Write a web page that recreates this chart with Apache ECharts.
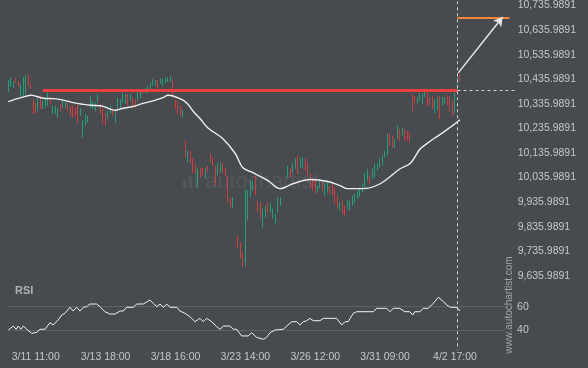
<!DOCTYPE html>
<html><head><meta charset="utf-8">
<script src="https://cdn.jsdelivr.net/npm/echarts@6/dist/echarts.min.js"></script>
<style>html,body{margin:0;padding:0;background:#474a4f;}#c{width:588px;height:368px;}</style>
</head><body><div id="c"></div>
<script>
// ---- data ----
const slotCount = 204;
const xTickIndex = [11, 39, 67, 95, 123, 151, 179];
const xTickText = ['3/11 11:00', '3/13 18:00', '3/18 16:00', '3/23 14:00', '3/26 12:00', '3/31 09:00', '4/2 17:00'];
const priceTicks = [9635.9891, 9735.9891, 9835.9891, 9935.9891, 10035.9891, 10135.9891, 10235.9891, 10335.9891, 10435.9891, 10535.9891, 10635.9891, 10735.9891];
const rsiTicks = [40, 60];

const open = [10388,10409,10405,10437,10425,10372,10372,10380,10449,10413,10352,10336,10311,10364,10319,10324,10332,10356,10299,10303,10283,10332,10324,10320,10336,10324,10324,10315,10332,10291,10202,10251,10263,10324,10319,10311,10344,10332,10311,10295,10279,10299,10315,10263,10311,10324,10344,10340,10372,10352,10356,10352,10352,10364,10392,10384,10384,10400,10413,10413,10429,10421,10413,10425,10429,10429,10433,10348,10344,10324,10283,10182,10101,10141,10109,10088,9999,10072,10072,10036,10080,10129,10113,10080,10048,10060,10093,10072,10040,9951,9918,null,9797,9768,9724,9691,9866,9959,9987,10040,9939,9931,9837,9878,9931,9898,9874,9854,9898,9927,null,null,10040,10072,10060,10076,10121,10080,10084,10113,10093,10048,10032,10020,9979,9995,10020,9967,9979,9999,10007,9991,9959,9906,9939,9918,9914,9906,9927,9935,9955,9959,9979,9999,10028,10040,10036,10040,10068,10080,10088,10121,10129,10214,10202,10161,10198,10230,10210,10230,10222,10214,10372,10364,10340,10352,10340,10368,10384,10360,10364,10303,10311,10364,10332,10340,10368,10364,10344,10303,10392,10453];
const close = [10429,10441,10425,10425,10409,10413,10441,10449,10413,10400,10299,10303,10356,10319,10344,10356,10384,10340,10324,10319,10315,10311,10344,10340,10311,10291,10283,10291,10263,10315,10263,10291,10283,10364,10344,10336,10372,10299,10259,10251,10303,10324,10291,10303,10356,10352,10376,10372,10332,10372,10332,10324,10384,10392,10380,10396,10405,10417,10433,10429,10405,10437,10433,10437,10441,10445,10368,10319,10299,10291,10307,10121,10141,10097,10060,10056,10072,10040,10048,10072,10060,10101,10088,10007,10088,10093,10060,10048,9939,9918,9951,null,9752,9712,9675,9983,9979,10020,10020,9967,9898,9878,9906,9918,9898,9927,9906,9886,9951,9951,null,null,10080,10040,10088,10109,10056,10113,10109,10068,10048,9999,9987,9975,9999,10028,9987,10011,10020,9975,9967,9935,9914,9931,9894,9886,9939,9939,9959,9967,9979,9991,10007,10052,10068,10016,10068,10088,10088,10109,10121,10141,10210,10170,10161,10190,10242,10190,10234,10190,10190,10182,10311,10344,10360,10376,10372,10384,10332,10332,10319,10352,10360,10279,10360,10360,10336,10311,10291,10376,10457,10429];
const low = [10384,10405,10400,10421,10405,10368,10368,10376,10409,10396,10295,10299,10307,10315,10315,10319,10328,10336,10295,10295,10279,10307,10319,10319,10307,10287,10279,10287,10259,10287,10198,10247,10259,10319,10315,10307,10340,10295,10255,10247,10275,10295,10287,10259,10307,10319,10340,10336,10328,10348,10328,10319,10348,10360,10376,10380,10380,10396,10409,10409,10400,10417,10409,10421,10425,10425,10364,10315,10295,10287,10279,10117,10097,10093,10056,10052,9995,10036,10044,10032,10056,10097,10084,10003,10044,10056,10056,10044,9935,9914,9914,null,9748,9708,9671,9675,9862,9955,9983,9963,9894,9874,9833,9874,9894,9894,9870,9849,9894,9922,null,null,10036,10036,10056,10072,10052,10076,10076,10064,10044,9995,9983,9971,9975,9991,9983,9963,9975,9971,9963,9931,9910,9902,9890,9882,9910,9902,9922,9931,9951,9955,9975,9995,10024,10011,10032,10036,10064,10076,10084,10117,10125,10165,10157,10157,10194,10186,10206,10186,10186,10178,10307,10340,10336,10348,10336,10364,10328,10328,10315,10299,10307,10275,10328,10336,10332,10307,10287,10299,10388,10425];
const high = [10433,10445,10429,10441,10429,10417,10445,10453,10453,10417,10356,10340,10360,10368,10348,10360,10388,10360,10328,10328,10319,10336,10348,10348,10340,10328,10328,10319,10336,10319,10267,10295,10287,10368,10348,10340,10376,10336,10315,10299,10307,10328,10319,10307,10360,10356,10380,10376,10376,10376,10360,10356,10388,10396,10396,10400,10409,10421,10437,10433,10433,10441,10437,10441,10445,10449,10437,10352,10348,10328,10311,10186,10145,10145,10113,10093,10076,10076,10076,10076,10084,10133,10117,10084,10093,10097,10097,10076,10044,9955,9955,null,9801,9772,9728,9991,9983,10024,10024,10044,9943,9935,9910,9922,9935,9931,9910,9890,9955,9955,null,null,10084,10076,10093,10113,10125,10117,10117,10117,10097,10052,10036,10024,10003,10032,10024,10016,10024,10003,10011,9995,9963,9935,9943,9922,9943,9943,9963,9971,9983,9995,10011,10056,10072,10044,10072,10093,10093,10113,10125,10145,10214,10218,10206,10194,10247,10234,10238,10234,10226,10218,10376,10368,10364,10380,10376,10388,10388,10364,10368,10356,10364,10368,10364,10364,10372,10368,10348,10380,10461,10457];

const maIdx = [0,5,9,14,18,22,26,30,33,37,41,43,46,50,54,58,62,64,66,70,72,74,77,80,86,91,94,98,104,109,114,121,128,133,136,142,149,157,161,165,168,171,174,177,179,181];
const maVal = [10345,10361,10371,10359,10357,10351,10341,10334,10330,10328,10314,10310,10318,10325,10338,10348,10361,10371,10368,10351,10334,10307,10274,10238,10194,10133,10076,10056,10024,9991,10011,10028,10020,10003,9991,9991,10011,10072,10093,10152,10176,10198,10218,10240,10255,10271];

const rsiIdx = [0,0.7,2,3.1,4,5,6,7.4,9.4,11.4,12.7,14.7,16.7,18,20,21.4,22.7,24.7,26,27.4,28.7,30.1,31.4,32.7,35.4,36.7,38.7,40.7,42.8,44.8,46.1,47.4,50.1,51.5,54.1,56.8,58.1,59.5,60.8,62.1,63.5,64.8,67.5,68.8,70.8,72.8,74.8,76.8,78.1,79.5,81.5,83.5,84.8,86.2,88.8,90.2,91.5,93.5,96.2,97.5,99.5,102.2,103.5,104.9,106.9,110.2,111.6,113.6,115.6,116.9,118.2,119.6,120.9,122.2,124.9,126.2,131.6,133.6,134.9,136.2,138.2,139.6,146.3,147.6,151.6,152.9,154.3,156.9,158.9,160.9,162,162.9,164.9,166.3,168.3,170.3,172.3,173.7,175.7,177.1,179.8,181];
const rsiVal = [40,40.6,43.4,40.6,43.4,40.6,43.4,40.6,37.1,38,40.6,40.6,46.3,44.3,48.6,52.9,54.3,59.5,56.3,59.5,56.3,59.5,60,62.3,62.3,60,55.7,53.7,53.7,56.3,56.3,59.5,59.5,62.3,62.3,65.7,62.9,60,62.3,59.5,62.3,59.5,59.5,56.3,54.3,51.4,47.1,50,47.1,50,47.1,42.9,40.6,43.4,43.4,40.6,40.6,34.9,34.9,37.7,33.7,32,33.7,37.7,40,40.6,43.4,47.1,47.1,44.3,47.1,48,50,48,48,50,50,44.3,47.1,47.1,54.3,55.7,55.7,58.6,58.6,55.7,58.6,58.6,55.7,55.7,52.9,55.7,55.7,58.6,58.6,62.9,68,65.7,61.4,59.5,59.5,56.3];

const levelPrice = 10392;
const levelStartIdx = 13.8;
const signalIdx = 180;
const targetPrice = 10688;
const targetEndIdx = 200.8;
const arrowFrom = [180.3, 10462];
const arrowTo = [198.1, 10689];

// ---- build ----
const cats = Array.from({length: slotCount}, (_, i) => 'c' + i);
const catLabel = {};
xTickIndex.forEach((k, j) => { catLabel['c' + k] = xTickText[j]; });
const candles = open.map((o, i) => o == null ? '-' : [o, close[i], low[i], high[i]]);
const maData = maIdx.map((x, i) => [x, maVal[i]]);
const rsiData = rsiIdx.map((x, i) => [x, rsiVal[i]]);

function fmtPrice(v) {
  const s = v.toFixed(4).split('.');
  return s[0].replace(/\B(?=(\d{3})+(?!\d))/g, ',') + '.' + s[1];
}
const FONT = 'Liberation Sans, Arial, sans-serif';
const LBL = '#c5c7ca';
const yMin = 9335.9891, yMax = 10753;
const gridW = 509.1, slotW = gridW / slotCount, rsiW = 498;

const chart = echarts.init(document.getElementById('c'), null, {renderer: 'canvas'});
chart.setOption({
  backgroundColor: '#474a4f',
  animation: false,
  title: {text: 'RSI', left: 10, top: 280, textStyle: {color: '#aeb0b4', fontSize: 11, fontWeight: 'bold', fontFamily: FONT}},
  grid: [
    {left: 7.05, top: 0, width: gridW, height: 349.7},
    {left: 7.05, top: 306.7, width: rsiW, height: 23.3}
  ],
  xAxis: [
    {type: 'category', gridIndex: 0, data: cats, boundaryGap: true,
     axisLine: {show: false}, axisTick: {show: false}, splitLine: {show: false},
     axisLabel: {interval: 0, margin: 2, color: LBL, fontSize: 10.5, fontFamily: FONT,
       formatter: v => catLabel[v] || ''}},
    {type: 'value', gridIndex: 0, min: -0.5, max: slotCount - 0.5, show: false},
    {type: 'value', gridIndex: 1, min: -0.5, max: -0.5 + rsiW / slotW, show: false}
  ],
  yAxis: [
    {type: 'value', gridIndex: 0, position: 'right', min: yMin, max: yMax, interval: 100,
     splitLine: {show: false}, axisLine: {show: false}, axisTick: {show: false},
     axisLabel: {margin: 1.5, color: LBL, fontSize: 10.5, fontFamily: FONT,
       formatter: v => {
         const t = priceTicks.find(p => Math.abs(p - v) < 1);
         return t === undefined ? '' : fmtPrice(t);
       }}},
    {type: 'value', gridIndex: 1, position: 'right', min: rsiTicks[0], max: rsiTicks[1], interval: 20,
     splitLine: {show: true, lineStyle: {color: '#5d6065', width: 1}},
     axisLine: {show: false}, axisTick: {show: false},
     axisLabel: {margin: 12, color: LBL, fontSize: 10.5, fontFamily: FONT}}
  ],
  series: [
    {type: 'candlestick', xAxisIndex: 0, yAxisIndex: 0, data: candles, barWidth: 1,
     itemStyle: {color: '#1db584', color0: '#f03e3c', borderColor: '#1db584', borderColor0: '#f03e3c', borderWidth: 0.8},
     z: 2},
    {type: 'line', xAxisIndex: 1, yAxisIndex: 0, data: maData, smooth: 0.35, symbol: 'none',
     lineStyle: {color: '#eeeeee', width: 1.4}, z: 3, silent: true,
     markLine: {silent: true, symbol: 'none', label: {show: false}, animation: false,
       data: [
         [{coord: [levelStartIdx, levelPrice], lineStyle: {color: '#e6403f', width: 3, type: 'solid'}}, {coord: [signalIdx, levelPrice]}],
         [{coord: [signalIdx, levelPrice], lineStyle: {color: '#d0d1d3', width: 1, type: [3, 3]}}, {coord: [slotCount - 0.5, levelPrice]}],
         [{coord: [signalIdx, yMax], lineStyle: {color: '#d0d1d3', width: 1, type: [3, 3]}}, {coord: [signalIdx, yMin]}],
         [{coord: [signalIdx, targetPrice], lineStyle: {color: '#f4853a', width: 2, type: 'solid'}}, {coord: [targetEndIdx, targetPrice]}],
         [{coord: arrowFrom, symbol: 'none', lineStyle: {color: '#e8e8e8', width: 1.5, type: 'solid'}},
          {coord: arrowTo, symbol: 'arrow', symbolSize: [8, 9]}]
       ]}},
    {type: 'line', xAxisIndex: 2, yAxisIndex: 1, data: rsiData, symbol: 'none', clip: false,
     lineStyle: {color: '#f2f2f2', width: 1}, silent: true}
  ],
  graphic: [
    {type: 'text', left: 205, top: 171, silent: true,
     style: {text: 'autochartist', font: '22px ' + FONT, fill: 'rgba(255,255,255,0.07)'}},
    {type: 'rect', shape: {x: 183, y: 180, width: 3, height: 8}, style: {fill: 'rgba(255,255,255,0.07)'}, silent: true},
    {type: 'rect', shape: {x: 189, y: 176, width: 3, height: 12}, style: {fill: 'rgba(255,255,255,0.07)'}, silent: true},
    {type: 'rect', shape: {x: 195, y: 172, width: 3, height: 16}, style: {fill: 'rgba(255,255,255,0.07)'}, silent: true},
    {type: 'text', x: 509, y: 305, rotation: Math.PI / 2, silent: true,
     style: {text: 'www.autochartist.com', font: '10px ' + FONT, fill: '#a3a5a9', align: 'center', verticalAlign: 'middle', textAlign: 'center', textVerticalAlign: 'middle'}}
  ]
});
</script>
</body></html>
